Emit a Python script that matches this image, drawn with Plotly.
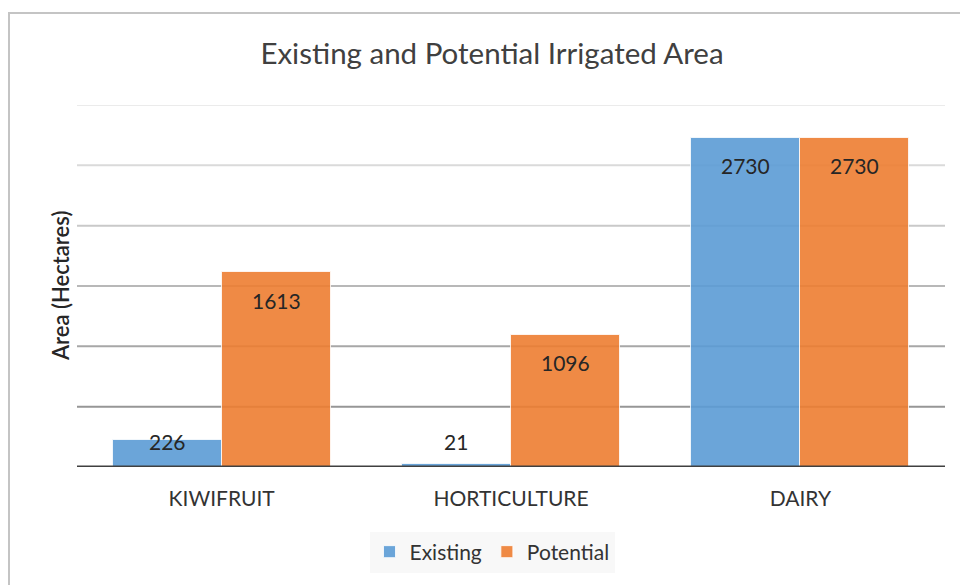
import plotly.graph_objects as go

# Irrigated area by land use (hectares)
categories = ["KIWIFRUIT", "HORTICULTURE", "DAIRY"]
existing = [226, 21, 2730]
potential = [1613, 1096, 2730]
series_names = ["Existing", "Potential"]
grid_values = [500, 1000, 1500, 2000, 2500, 3000]

W, H = 960, 585
ML, MR, MT, MB = 77, 15, 105, 118
PLOT_W = W - ML - MR
PLOT_H = H - MT - MB
Y_MAX = 3000
UNITS_PER_PX = Y_MAX / PLOT_H

BAR_W = 0.377
FONT = "Lato"
colors = ["rgba(91,155,213,0.9)", "rgba(237,125,49,0.9)"]

xs = list(range(len(categories)))
fig = go.Figure()
for k, (name, vals) in enumerate(zip(series_names, [existing, potential])):
    fig.add_trace(go.Bar(
        x=xs, y=vals, name=name,
        width=BAR_W, offset=-BAR_W + k * BAR_W,
        marker=dict(color=colors[k], line=dict(color="rgba(255,255,255,0.8)", width=1)),
        hoverinfo="skip",
    ))

# value labels sit just inside the bar end, kept above the baseline for short bars
annotations = []
for k, vals in enumerate([existing, potential]):
    for i, v in enumerate(vals):
        y_lab = max(v - 28 * UNITS_PER_PX, 26 * UNITS_PER_PX)
        annotations.append(dict(
            x=i - BAR_W / 2 + k * BAR_W, y=y_lab, xref="x", yref="y",
            text=str(v), showarrow=False, yanchor="middle",
            font=dict(family=FONT, size=21, color="#262626"),
        ))

annotations.append(dict(
    x=(60 - ML) / PLOT_W, y=0.5, xref="paper", yref="paper",
    xanchor="center", yanchor="middle",
    text="Area (Hectares)", textangle=-90, showarrow=False,
    font=dict(family=FONT, size=22, color="#262626", weight=600),
))

# gridlines fade from dark near the baseline to light at the top
shapes = []
n = len(grid_values)
for j, gv in enumerate(grid_values):
    t = j / (n - 1)
    c = int(150 + (235 - 150) * t)
    shapes.append(dict(type="line", xref="paper", yref="y", x0=0, x1=1, y0=gv, y1=gv,
                       line=dict(color=f"rgb({c},{c},{c})", width=2), layer="below"))
shapes.append(dict(type="line", xref="paper", yref="y", x0=0, x1=1, y0=0, y1=0,
                   line=dict(color="#404040", width=3), layer="above"))
# chart frame
shapes.append(dict(type="rect", xref="paper", yref="paper",
                   x0=(9 - ML) / PLOT_W, x1=1.2,
                   y0=-0.6, y1=(H - MB - 13) / PLOT_H,
                   line=dict(color="#c4c4c4", width=2), layer="below"))

fig.update_layout(
    width=W, height=H,
    margin=dict(l=ML, r=MR, t=MT, b=MB),
    paper_bgcolor="white", plot_bgcolor="white",
    barmode="overlay",
    title=dict(text="Existing and Potential Irrigated Area", x=492 / W, xanchor="center",
               xref="container", y=1 - 54 / H, yanchor="middle", yref="container",
               font=dict(family=FONT, size=29.5, color="#404040")),
    xaxis=dict(tickvals=xs, ticktext=categories, range=[-0.5, len(categories) - 0.5],
               showgrid=False, zeroline=False, showline=False, ticks="",
               ticklabelstandoff=17,
               tickfont=dict(family=FONT, size=21, color="#333333")),
    yaxis=dict(range=[0, Y_MAX], showgrid=False, zeroline=False, showline=False,
               showticklabels=False, ticks=""),
    legend=dict(orientation="h", xref="container", yref="container",
                x=492 / W, xanchor="center", y=1 - 552 / H, yanchor="middle",
                bgcolor="#f8f8f8", font=dict(family=FONT, size=21, color="#333333"),
                itemwidth=30, traceorder="normal"),
    annotations=annotations,
    shapes=shapes,
    bargap=0,
)

fig.write_html("out.html")
